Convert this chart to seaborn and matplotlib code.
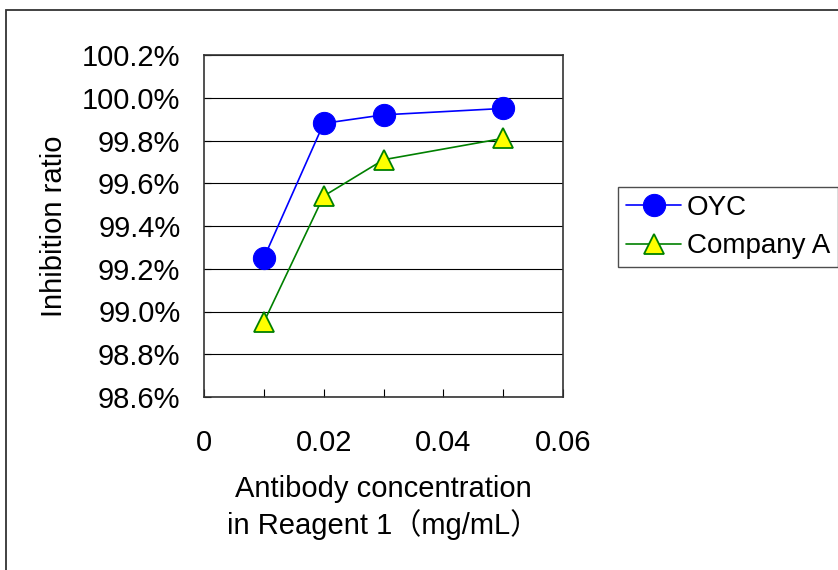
import pandas as pd
import matplotlib
matplotlib.use("Agg")
import matplotlib.pyplot as plt
import seaborn as sns
from matplotlib.patches import Rectangle
from matplotlib.ticker import FuncFormatter, MultipleLocator

# values
conc = [0.01, 0.02, 0.03, 0.05]
oyc = [99.25, 99.88, 99.92, 99.95]
company_a = [98.95, 99.54, 99.71, 99.81]
series_names = ["OYC", "Company A"]
y_ticks = [98.6, 98.8, 99.0, 99.2, 99.4, 99.6, 99.8, 100.0, 100.2]
x_ticks = [0, 0.02, 0.04, 0.06]

sns.set_theme(style="white")
plt.rcParams['font.family'] = ['Liberation Sans', 'Noto Sans CJK JP', 'DejaVu Sans']
plt.rcParams['text.color'] = 'black'
plt.rcParams['axes.labelcolor'] = 'black'
plt.rcParams['xtick.color'] = 'black'
plt.rcParams['ytick.color'] = 'black'

fig = plt.figure(figsize=(8.38, 5.70), dpi=100)
ax = fig.add_axes([204 / 838, 1 - 397 / 570, (563 - 204) / 838, (397 - 55) / 570])

df_oyc = pd.DataFrame({"conc": conc, "ratio": oyc})
df_a = pd.DataFrame({"conc": conc, "ratio": company_a})

sns.lineplot(data=df_oyc, x="conc", y="ratio", ax=ax, color="#0000FF", linewidth=1.2,
             marker="o", markersize=16, markerfacecolor="#0000FF", markeredgecolor="#0000FF",
             label=series_names[0])
sns.lineplot(data=df_a, x="conc", y="ratio", ax=ax, color="#008000", linewidth=1.2,
             marker="^", markersize=15, markerfacecolor="#FFFF00", markeredgecolor="#008000",
             markeredgewidth=1.3, label=series_names[1])

ax.set_xlim(0, 0.06)
ax.set_ylim(98.6, 100.2)
ax.set_xticks(x_ticks)
ax.set_xticklabels(["0", "0.02", "0.04", "0.06"])
ax.xaxis.set_minor_locator(MultipleLocator(0.01))
ax.set_yticks(y_ticks)
ax.yaxis.set_major_formatter(FuncFormatter(lambda v, p: f"{v:.1f}%"))

ax.grid(axis="y", color="black", linewidth=0.8)
ax.set_axisbelow(True)
for s in ax.spines.values():
    s.set_color("#333333")
    s.set_linewidth(1.2)

ax.tick_params(axis="y", which="major", direction="in", length=5, width=0.8,
               left=True, labelsize=21, pad=17)
ax.tick_params(axis="x", which="major", direction="in", length=0, labelsize=21, pad=23)
ax.tick_params(axis="x", which="minor", direction="in", length=6, width=0.8, bottom=True)
ax.tick_params(axis="x", which="major", bottom=True, length=6, width=0.8)

ax.set_xlabel("Antibody concentration\nin Reagent 1（mg/mL）", fontsize=21, labelpad=13,
              linespacing=1.25)
ax.set_ylabel("Inhibition ratio", fontsize=21, labelpad=10)

ax.get_legend().remove()
handles, labels = ax.get_legend_handles_labels()
leg = fig.legend(handles, labels, loc="upper left", bbox_to_anchor=(618 / 838, 1 - 187 / 570),
                 fontsize=20, frameon=True, fancybox=False, edgecolor="#222222",
                 handlelength=2.0, handletextpad=0.2, borderpad=0.28, labelspacing=0.45,
                 borderaxespad=0)
leg.get_frame().set_linewidth(1.0)

# outer chart-area border
fig.patches.append(Rectangle((6 / 838, -0.05), 1.2, 1 - 10 / 570 + 0.05,
                             transform=fig.transFigure, fill=False,
                             edgecolor="#333333", linewidth=1.3))

fig.savefig("out.png", dpi=100)
